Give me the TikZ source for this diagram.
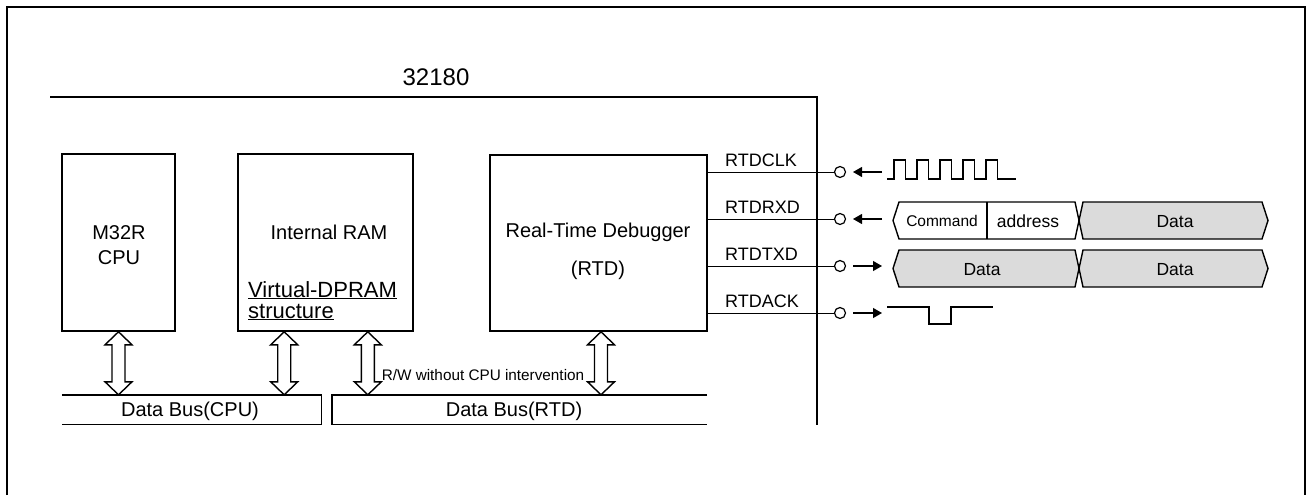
\documentclass[tikz,border=0pt]{standalone}
\usepackage{fontspec}
\setmainfont{Liberation Sans}
\usetikzlibrary{calc,arrows.meta}

\tikzset{
  blk/.style={draw, line width=1.6pt, inner sep=0pt},
  txt/.style={inner sep=0pt, anchor=base, font=\fontsize{20}{24}\selectfont},
  sigtxt/.style={inner sep=0pt, anchor=base west, font=\fontsize{18}{20}\selectfont},
  seqtxt/.style={inner sep=0pt, anchor=base, font=\fontsize{17.5}{20}\selectfont},
  pad/.style={circle, draw, line width=1.2pt, minimum size=11pt, inner sep=0pt},
  sig/.style={line width=0.9pt},
  sigarr/.style={line width=1.1pt, -{Triangle[length=9pt,width=10pt]}},
  wave/.style={line width=1.6pt},
  seg/.style={line width=1.4pt},
  dbl/.style={line width=1.4pt, fill=white},
  busline/.style={line width=1.4pt},
}

% hollow double-headed bus arrow: x from #1, y from #1 (top) and #2 (bottom)
\newcommand\dblarr[2]{%
  \draw[dbl] let \p1=(#1), \p2=(#2) in
    (\x1,\y1) -- (\x1+13.5pt,\y1-13pt) -- (\x1+6.5pt,\y1-13pt)
    -- (\x1+6.5pt,\y2+13pt) -- (\x1+13.5pt,\y2+13pt) -- (\x1,\y2)
    -- (\x1-13.5pt,\y2+13pt) -- (\x1-6.5pt,\y2+13pt)
    -- (\x1-6.5pt,\y1-13pt) -- (\x1-13.5pt,\y1-13pt) -- cycle;}

\begin{document}
\begin{tikzpicture}[x=1pt, y=-1pt]
  \useasboundingbox (0,0) rectangle (1308,495);

  % outer frame
  \draw[line width=2pt] (7,495) -- (7,7) -- (1305,7) -- (1305,495);

  % chip outline
  \draw[line width=1.8pt] (50,97) -- (817,97) -- (817,425);
  \node[txt, font=\fontsize{24}{28}\selectfont] (chipname) at (436,85) {32180};

  % blocks
  \node[blk, minimum width=113pt, minimum height=177pt] (cpu) at (118.5,242.5) {};
  \node[txt] (cpua) at (119,239) {M32R};
  \node[txt] (cpub) at (119,264) {CPU};

  \node[blk, minimum width=175pt, minimum height=177pt] (ram) at (325.5,242.5) {};
  \node[txt] (ramname) at (329,239) {Internal RAM};
  \node[txt, anchor=base west, font=\fontsize{22}{24}\selectfont] (dpram) at (248,297) {\underline{Virtual-DPRAM}};
  \node[txt, anchor=base west, font=\fontsize{22}{24}\selectfont] (dpramb) at (248,318) {\underline{structure}};

  \node[blk, minimum width=217pt, minimum height=176pt] (rtd) at (598.5,243) {};
  \node[txt] (rtdname) at (598,237) {Real-Time Debugger};
  \node[txt] (rtdabbr) at (598,275) {(RTD)};

  % buses
  \node[inner sep=0pt, minimum width=259pt, minimum height=29pt] (cpubus) at (191.5,409.5) {};
  \draw[busline] (cpubus.north west) -- (cpubus.north east) -- (cpubus.south east) -- (cpubus.south west);
  \node[txt] (cpubustxt) at (190,416) {Data Bus(CPU)};

  \node[inner sep=0pt, minimum width=375pt, minimum height=29pt] (rtdbus) at (519.5,409.5) {};
  \draw[busline] (rtdbus.north east) -- (rtdbus.north west) -- (rtdbus.south west) -- (rtdbus.south east);
  \node[txt] (rtdbustxt) at (514,416) {Data Bus(RTD)};

  % bus arrows
  \dblarr{cpu.south}{cpubus.north}
  \dblarr{[xshift=47pt]ram.south west}{cpubus.north}
  \dblarr{[xshift=-46pt]ram.south east}{rtdbus.north}
  \dblarr{[xshift=2.5pt]rtd.south}{rtdbus.north}
  \node[inner sep=0pt, font=\fontsize{15.3}{18}\selectfont] (rwtxt) at (483,375) {R/W without CPU intervention};

  % pads
  \node[pad] (pclk) at (840,172) {};
  \node[pad] (prxd) at (840,219) {};
  \node[pad] (ptxd) at (840,266) {};
  \node[pad] (pack) at (840,313) {};

  % signal lines
  \draw[sig] (rtd.north east |- pclk) -- (pclk);
  \draw[sig] (rtd.north east |- prxd) -- (prxd);
  \draw[sig] (rtd.north east |- ptxd) -- (ptxd);
  \draw[sig] (rtd.north east |- pack) -- (pack);
  \node[sigtxt] (lclk) at (725,166) {RTDCLK};
  \node[sigtxt] (lrxd) at (725,213) {RTDRXD};
  \node[sigtxt] (ltxd) at (725,260) {RTDTXD};
  \node[sigtxt] (lack) at (725,307) {RTDACK};

  % direction arrows
  \draw[sigarr] ([xshift=42pt]pclk.center) -- ([xshift=13pt]pclk.center);
  \draw[sigarr] ([xshift=42pt]prxd.center) -- ([xshift=13pt]prxd.center);
  \draw[sigarr] ([xshift=13pt]ptxd.center) -- ([xshift=42pt]ptxd.center);
  \draw[sigarr] ([xshift=13pt]pack.center) -- ([xshift=42pt]pack.center);

  % clock waveform
  \draw[wave] (887,179) \foreach \i in {0,...,4} {
    -- ({894+23*\i},179) -- ++(0,-19) -- ++(11.5,0) -- ++(0,19)} -- (1016,179);

  % RTDRXD sequence
  \draw[seg, fill=white] (893,220.5) -- (899,202) -- (1075,202) -- (1079,220.5)
    -- (1075,239) -- (899,239) -- cycle;
  \draw[seg] (987,202) -- (987,239);
  \draw[seg, fill=black!14] (1079,220.5) -- (1083,202) -- (1262,202) -- (1268,220.5)
    -- (1262,239) -- (1083,239) -- cycle;
  \node[seqtxt, font=\fontsize{15.5}{18}\selectfont] (cmd) at (942,226) {Command};
  \node[seqtxt] (addr) at (1028,227) {address};
  \node[seqtxt] (rdata) at (1175,227) {Data};

  % RTDTXD sequence
  \draw[seg, fill=black!14] (893,268.5) -- (899,250) -- (1075,250) -- (1079,268.5)
    -- (1075,287) -- (899,287) -- cycle;
  \draw[seg, fill=black!14] (1079,268.5) -- (1083,250) -- (1262,250) -- (1268,268.5)
    -- (1262,287) -- (1083,287) -- cycle;
  \node[seqtxt] (tdataa) at (982,275) {Data};
  \node[seqtxt] (tdatab) at (1175,275) {Data};

  % acknowledge pulse
  \draw[wave] (887,307) -- (929,307) -- (929,324) -- (951,324) -- (951,307) -- (993,307);
\end{tikzpicture}
\end{document}
